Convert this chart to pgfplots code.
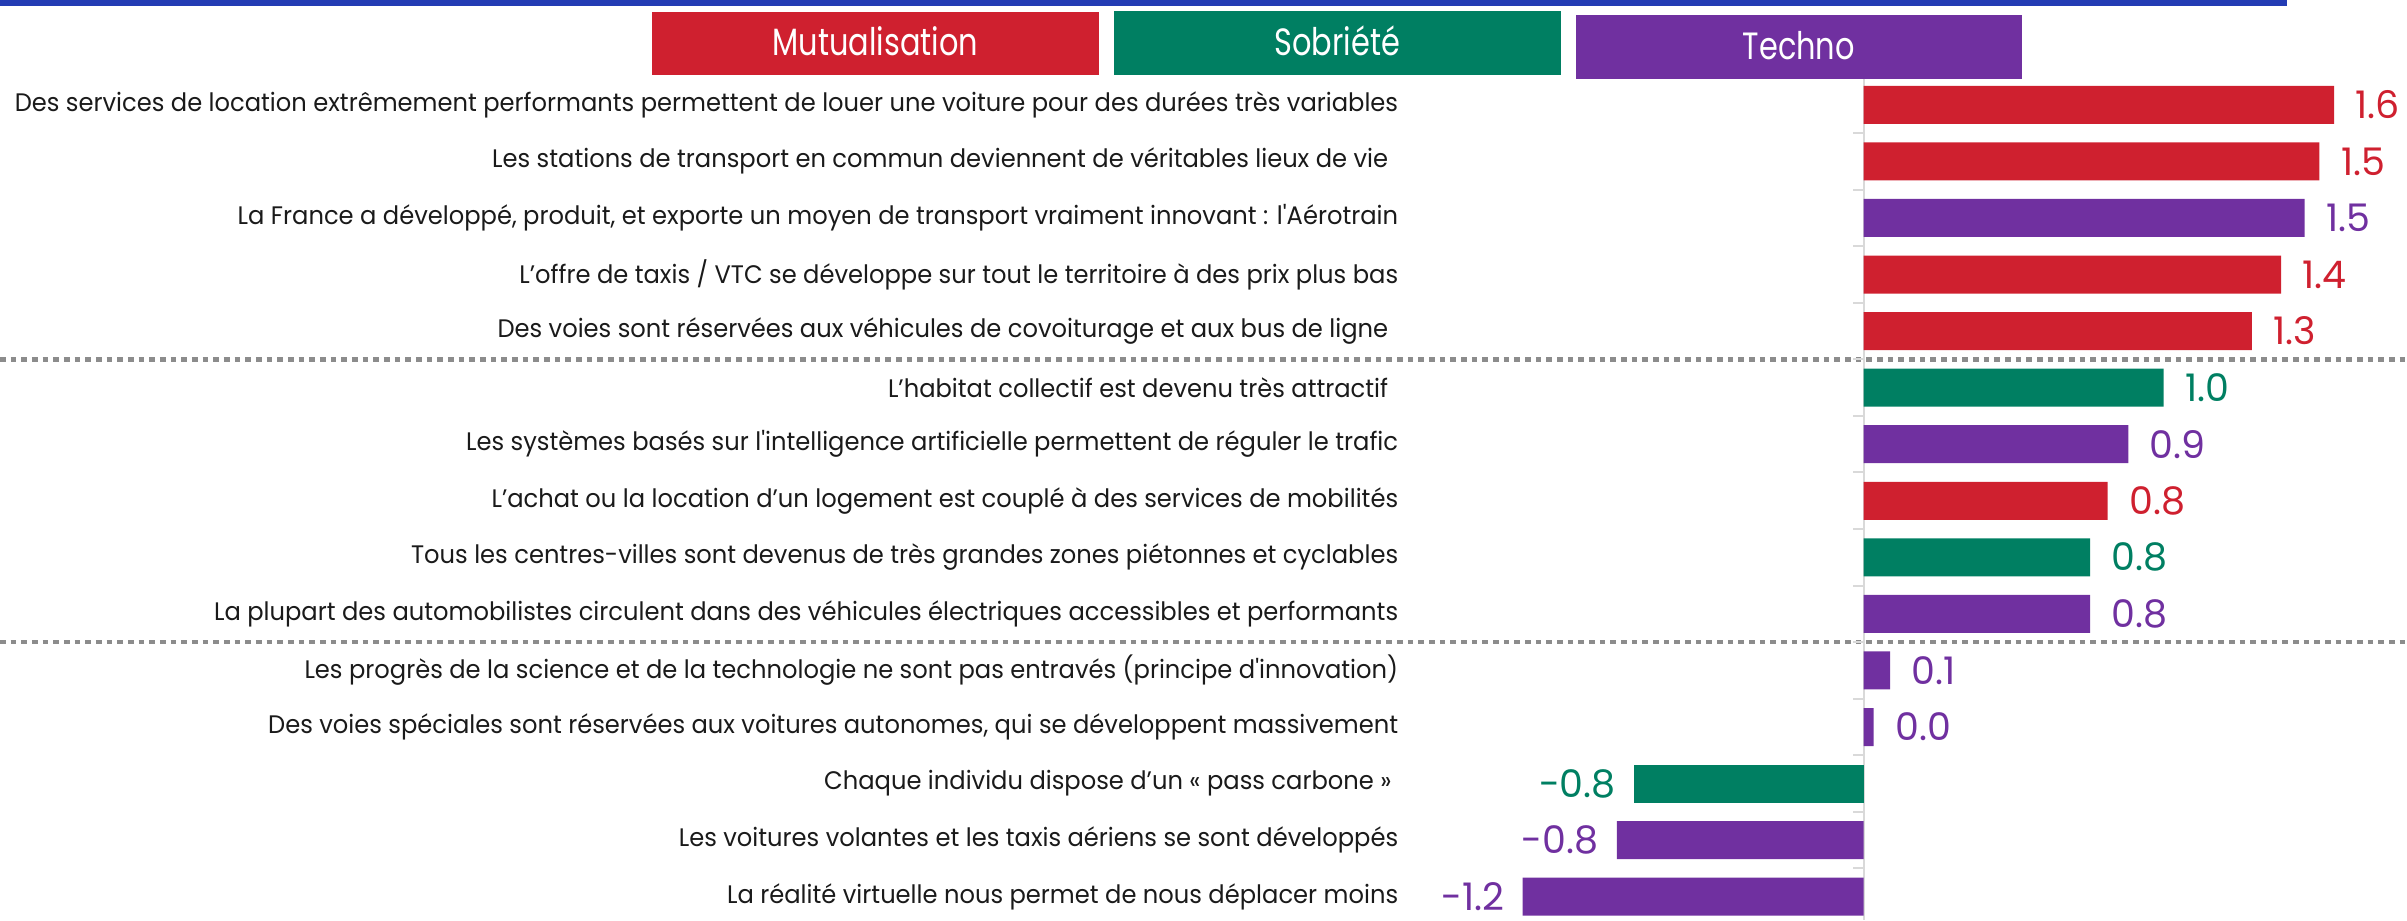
\documentclass[border=0pt]{standalone}
\usepackage{fontspec}
\setmainfont{Poppins}
\newfontfamily\labfont{Poppins}[FakeStretch=0.955]
\newfontfamily\valfont{Poppins}[FakeStretch=1.0]
\newfontfamily\legfont{Poppins}[FakeStretch=0.8]
\usepackage{pgfplots}
\pgfplotsset{compat=1.18}

\definecolor{mutu}{HTML}{CF202F}
\definecolor{sobr}{HTML}{007F62}
\definecolor{tech}{HTML}{7030A0}
\definecolor{topblue}{HTML}{233CB4}
\definecolor{sepgray}{HTML}{8C8C8C}
\definecolor{zerogray}{HTML}{D9D9D9}
\definecolor{labgray}{HTML}{1A1A1A}

\begin{document}
\begin{tikzpicture}
% decorations in pixel units of the 2407x920 reference, origin top left
\begin{scope}[x=0.3pt,y=-0.3pt]
  \useasboundingbox (0,0) rectangle (2407,920);
  \fill[topblue] (0,0) rectangle (2287,6);
  \fill[mutu] (652,12) rectangle (1099,75);
  \fill[sobr] (1114,11) rectangle (1561,75);
  \fill[tech] (1576,15) rectangle (2022,79);
  \node[anchor=base, text=white, inner sep=0pt, font=\legfont\fontsize{11.4pt}{12pt}\selectfont] at (875.5,56) {Mutualisation};
  \node[anchor=base, text=white, inner sep=0pt, font=\legfont\fontsize{11.4pt}{12pt}\selectfont] at (1337.5,56) {Sobriété};
  \node[anchor=base, text=white, inner sep=0pt, font=\legfont\fontsize{11.4pt}{12pt}\selectfont] at (1799,60) {Techno};
  \draw[sepgray, line width=1.4pt, dash pattern=on 1.7pt off 1.5pt] (0,359.4) -- (2407,359.4);
  \draw[sepgray, line width=1.4pt, dash pattern=on 1.7pt off 1.5pt] (0,642.2) -- (2407,642.2);
\end{scope}

\begin{axis}[
    at={(423pt,0pt)}, anchor=north west,
    scale only axis,
    width=299.1pt, height=276pt,
    xmin=-1.5442, xmax=1.847,
    ymin=-1.853, ymax=14.41,
    y dir=reverse,
    axis line style={draw=none},
    xtick=\empty,
    ytick={0,...,14},
    yticklabels={
      {Des services de location extrêmement performants permettent de louer une voiture pour des durées très variables},
      {Les stations de transport en commun deviennent de véritables lieux de vie\hspace*{3pt}},
      {La France a développé, produit, et exporte un moyen de transport vraiment innovant : l'Aérotrain},
      {L’offre de taxis / VTC se développe sur tout le territoire à des prix plus bas},
      {Des voies sont réservées aux véhicules de covoiturage et aux bus de ligne\hspace*{3pt}},
      {L’habitat collectif est devenu très attractif\hspace*{3pt}},
      {Les systèmes basés sur l'intelligence artificielle permettent de réguler le trafic},
      {L’achat ou la location d’un logement est couplé à des services de mobilités},
      {Tous les centres-villes sont devenus de très grandes zones piétonnes et cyclables},
      {La plupart des automobilistes circulent dans des véhicules électriques accessibles et performants},
      {Les progrès de la science et de la technologie ne sont pas entravés (principe d'innovation)},
      {Des voies spéciales sont réservées aux voitures autonomes, qui se développent massivement},
      {Chaque individu dispose d’un « pass carbone »\hspace*{2pt}},
      {Les voitures volantes et les taxis aériens se sont développés},
      {La réalité virtuelle nous permet de nous déplacer moins}
    },
    major tick length=0pt,
    yticklabel style={font=\labfont\fontsize{7.6pt}{8pt}\selectfont, text=labgray, anchor=east, inner xsep=0pt, xshift=-3.3pt},
    xbar, bar width=11.4pt, bar shift=0pt,
    clip=false,
    point meta=explicit symbolic,
    nodes near coords,
    every node near coord/.append style={font=\valfont\fontsize{11.4pt}{12pt}\selectfont, inner sep=0pt},
    pos/.style={every node near coord/.append style={anchor=west, xshift=6.3pt}},
    neg/.style={every node near coord/.append style={anchor=east, xshift=-5.4pt}},
  ]
  \draw[zerogray, line width=0.6pt] (axis cs:0,-0.46) -- (axis cs:0,14.41);
  \pgfplotsinvokeforeach{0.5,1.5,2.5,3.5,4.5,5.5,6.5,7.5,8.5,9.5,10.5,11.5,12.5,13.5}{
    \draw[zerogray, line width=0.6pt] (axis cs:0,#1) -- ++(-3.2pt,0pt);
  }
  % Mutualisation
  \addplot[fill=mutu, draw=none, pos, every node near coord/.append style={text=mutu}]
    coordinates {(1.60,0) [1.6] (1.55,1) [1.5] (1.42,3) [1.4] (1.32,4) [1.3] (0.83,7) [0.8]};
  % Sobriete
  \addplot[fill=sobr, draw=none, pos, every node near coord/.append style={text=sobr}]
    coordinates {(1.02,5) [1.0] (0.77,8) [0.8]};
  \addplot[fill=sobr, draw=none, neg, every node near coord/.append style={text=sobr}]
    coordinates {(-0.78,12) [-0.8]};
  % Techno
  \addplot[fill=tech, draw=none, pos, every node near coord/.append style={text=tech}]
    coordinates {(1.50,2) [1.5] (0.90,6) [0.9] (0.77,9) [0.8] (0.09,10) [0.1] (0.034,11) [0.0]};
  \addplot[fill=tech, draw=none, neg, every node near coord/.append style={text=tech}]
    coordinates {(-0.84,13) [-0.8] (-1.16,14) [-1.2]};
\end{axis}
\end{tikzpicture}
\end{document}
